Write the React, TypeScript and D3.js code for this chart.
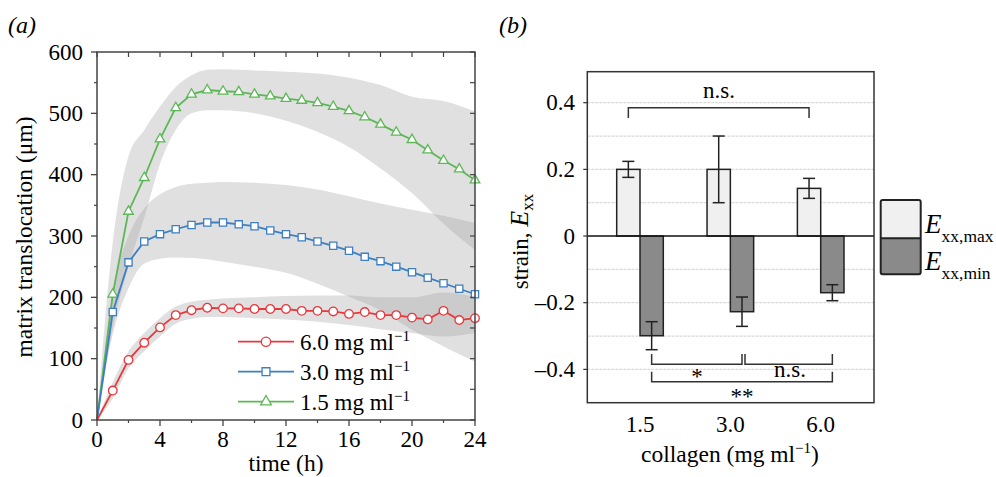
import React from 'react';
import * as d3 from 'd3';

// ---------- Panel (a) data ----------
const hours = [0, 1, 2, 3, 4, 5, 6, 7, 8, 9, 10, 11, 12, 13, 14, 15, 16, 17, 18, 19, 20, 21, 22, 23, 24];
const red6 = [0, 48, 98, 126, 151, 171, 179, 183, 182, 182, 181, 181, 181, 178, 178, 177, 173, 176, 171, 171, 167, 164, 178, 163, 166];
const blue3 = [0, 176, 257, 291, 303, 311, 318, 322, 322, 319, 316, 309, 303, 298, 291, 284, 276, 266, 259, 250, 241, 232, 223, 214, 205];
const green15 = [0, 205, 340, 395, 458, 509, 531, 538, 536, 535, 531, 528, 524, 521, 517, 511, 504, 494, 482, 469, 457, 440, 423, 409, 391];

const bandHours = [0, 1, 2, 3, 4, 5, 6, 7, 8, 10, 12, 14, 16, 18, 20, 22, 24];
const redUpper = [0, 62, 112, 142, 166, 185, 193, 196, 198, 200, 202, 203, 203, 200, 200, 208, 201];
const redLower = [0, 35, 84, 112, 136, 157, 165, 168, 168, 166, 164, 160, 155, 148, 142, 136, 142];
const blueUpper = [0, 210, 300, 345, 368, 380, 385, 387, 388, 387, 383, 376, 365, 353, 343, 333, 321];
const blueLower = [0, 140, 215, 255, 263, 265, 264, 262, 258, 250, 240, 222, 201, 179, 147, 120, 95];
const greenUpper = [0, 290, 430, 473, 511, 543, 562, 571, 572, 570, 568, 565, 558, 546, 527, 520, 503];
const greenLower = [0, 150, 250, 330, 418, 473, 500, 505, 505, 500, 488, 470, 445, 410, 370, 320, 277];

const xTicksA = [0, 4, 8, 12, 16, 20, 24];
const xMinorA = [2, 6, 10, 14, 18, 22];
const yTicksA = [0, 100, 200, 300, 400, 500, 600];
const yMinorA = [50, 150, 250, 350, 450, 550];
const legendLabels = ['6.0 mg ml', '3.0 mg ml', '1.5 mg ml'];

// ---------- Panel (b) data ----------
const collagenCats = ['1.5', '3.0', '6.0'];
const exxMax = [0.2, 0.2, 0.143];
const exxMaxErr = [0.024, 0.1, 0.03];
const exxMin = [-0.299, -0.227, -0.17];
const exxMinErr = [0.042, 0.044, 0.024];
const yTicksB = [-0.4, -0.2, 0, 0.2, 0.4];
const yTickLabelsB = ['\u20130.4', '\u20130.2', '0', '0.2', '0.4'];
const gridB = [-0.4, -0.3, -0.2, -0.1, 0.1, 0.2, 0.3, 0.4];

const FONT = 'Liberation Serif, Times New Roman, Times, serif';
const RED = '#e8383d';
const BLUE = '#3d7fc2';
const GREEN = '#5cb856';

export default function App() {
  // Panel (a) scales
  const xA = d3.scaleLinear().domain([0, 24]).range([97, 475]);
  const yA = d3.scaleLinear().domain([0, 600]).range([420, 52]);

  const band = (up: number[], lo: number[]) =>
    d3.area<number>()
      .x((_, i) => xA(bandHours[i]))
      .y0((_, i) => yA(lo[i]))
      .y1((_, i) => yA(up[i]))
      .curve(d3.curveMonotoneX)(up) || '';

  const line = (vals: number[]) =>
    d3.line<number>().x((_, i) => xA(hours[i])).y((v) => yA(v))(vals) || '';

  const series = [
    { vals: red6, color: RED, sym: d3.symbolCircle, size: 58 },
    { vals: blue3, color: BLUE, sym: d3.symbolSquare, size: 52 },
    { vals: green15, color: GREEN, sym: d3.symbolTriangle, size: 40 },
  ];

  // Panel (b) scales
  const xB = d3.scalePoint<string>().domain(collagenCats).range([640, 820.7]);
  const yB = d3.scaleLinear().domain([-0.5, 0.493]).range([402.7, 71.7]);
  const bw = 23.3;
  const frameB = { x0: 587.3, x1: 874, y0: 71.7, y1: 402.7 };

  const errBar = (cx: number, v: number, e: number, key: string) => (
    <g key={key} stroke="#222" strokeWidth={1.5}>
      <line x1={cx} x2={cx} y1={yB(v - e)} y2={yB(v + e)} />
      <line x1={cx - 6} x2={cx + 6} y1={yB(v - e)} y2={yB(v - e)} />
      <line x1={cx - 6} x2={cx + 6} y1={yB(v + e)} y2={yB(v + e)} />
    </g>
  );

  const maxC = (i: number) => (xB(collagenCats[i]) as number) - bw / 2;
  const minC = (i: number) => (xB(collagenCats[i]) as number) + bw / 2;

  return (
    <svg width={996} height={477} style={{ position: 'absolute', left: 0, top: 0, background: '#fff', fontFamily: FONT }}>
      {/* ---------- Panel (a) ---------- */}
      <text x={8} y={33} fontSize={24} fontStyle="italic">(a)</text>

      <path d={band(greenUpper, greenLower)} fill="#a0a0a0" fillOpacity={0.33} />
      <path d={band(blueUpper, blueLower)} fill="#a0a0a0" fillOpacity={0.33} />
      <path d={band(redUpper, redLower)} fill="#a0a0a0" fillOpacity={0.33} />

      {series.slice().reverse().map((s, si) => (
        <g key={'s' + si}>
          <path d={line(s.vals)} fill="none" stroke={s.color} strokeWidth={1.8} />
          {s.vals.map((v, i) =>
            i === 0 ? null : (
              <path
                key={i}
                d={d3.symbol().type(s.sym).size(s.size)() || ''}
                transform={`translate(${xA(hours[i])},${yA(v)})`}
                fill="#fff"
                stroke={s.color}
                strokeWidth={1.3}
              />
            )
          )}
        </g>
      ))}

      {/* frame & ticks */}
      <rect x={97} y={52} width={378} height={368} fill="none" stroke="#444" strokeWidth={1.5} />
      {yTicksA.map((t) => (
        <g key={'ya' + t}>
          <line x1={91} x2={97} y1={yA(t)} y2={yA(t)} stroke="#444" strokeWidth={1.3} />
          <text x={83} y={yA(t) + 7.5} fontSize={23} textAnchor="end">{t}</text>
        </g>
      ))}
      {yMinorA.map((t) => (
        <line key={'yma' + t} x1={94} x2={97} y1={yA(t)} y2={yA(t)} stroke="#444" strokeWidth={1.2} />
      ))}
      {[...yTicksA, ...yMinorA].map((t) => (
        <line key={'yra' + t} x1={470} x2={475} y1={yA(t)} y2={yA(t)} stroke="#444" strokeWidth={1.2} />
      ))}
      {xTicksA.map((t) => (
        <g key={'xa' + t}>
          <line x1={xA(t)} x2={xA(t)} y1={420} y2={426} stroke="#444" strokeWidth={1.3} />
          <text x={xA(t)} y={447} fontSize={23} textAnchor="middle">{t}</text>
        </g>
      ))}
      {xMinorA.map((t) => (
        <line key={'xma' + t} x1={xA(t)} x2={xA(t)} y1={420} y2={423} stroke="#444" strokeWidth={1.2} />
      ))}
      {[...xTicksA, ...xMinorA].map((t) => (
        <line key={'xta' + t} x1={xA(t)} x2={xA(t)} y1={52} y2={57} stroke="#444" strokeWidth={1.2} />
      ))}

      <text x={286} y={471} fontSize={23.5} textAnchor="middle">time (h)</text>
      <text transform="translate(32,237) rotate(-90)" fontSize={23.5} textAnchor="middle">matrix translocation (μm)</text>

      {/* legend */}
      {series.map((s, i) => {
        const cy = 341.7 + i * 30;
        return (
          <g key={'lg' + i}>
            <line x1={238} x2={294} y1={cy} y2={cy} stroke={s.color} strokeWidth={1.8} />
            <path d={d3.symbol().type(s.sym).size(s.size + 10)() || ''} transform={`translate(266,${cy})`} fill="#fff" stroke={s.color} strokeWidth={1.3} />
            <text x={300} y={cy + 8} fontSize={23}>
              {legendLabels[i]}
              <tspan dy={-9} fontSize={15}>−1</tspan>
            </text>
          </g>
        );
      })}

      {/* ---------- Panel (b) ---------- */}
      <text x={499} y={33} fontSize={24} fontStyle="italic">(b)</text>

      {gridB.map((g) => (
        <line key={'gb' + g} x1={frameB.x0} x2={frameB.x1} y1={yB(g)} y2={yB(g)} stroke="#d9d9d9" strokeWidth={1.2} strokeDasharray="3,1" />
      ))}

      {collagenCats.map((c, i) => (
        <g key={'bar' + c}>
          <rect x={(xB(c) as number) - bw} y={yB(exxMax[i])} width={bw} height={yB(0) - yB(exxMax[i])} fill="#f0f0f0" stroke="#222" strokeWidth={1.5} />
          <rect x={xB(c) as number} y={yB(0)} width={bw} height={yB(exxMin[i]) - yB(0)} fill="#8a8a8a" stroke="#222" strokeWidth={1.5} />
        </g>
      ))}
      <line x1={frameB.x0} x2={frameB.x1} y1={yB(0)} y2={yB(0)} stroke="#111" strokeWidth={1.5} />
      {collagenCats.map((c, i) => errBar(maxC(i), exxMax[i], exxMaxErr[i], 'emax' + c))}
      {collagenCats.map((c, i) => errBar(minC(i), exxMin[i], exxMinErr[i], 'emin' + c))}

      <rect x={frameB.x0} y={frameB.y0} width={frameB.x1 - frameB.x0} height={frameB.y1 - frameB.y0} fill="none" stroke="#333" strokeWidth={1.5} />

      {yTicksB.map((t, i) => (
        <g key={'yb' + t}>
          <line x1={frameB.x0 - 4} x2={frameB.x0} y1={yB(t)} y2={yB(t)} stroke="#333" strokeWidth={1.2} />
          <text x={575} y={yB(t) + 7.5} fontSize={23} textAnchor="end">{yTickLabelsB[i]}</text>
        </g>
      ))}
      {collagenCats.map((c) => (
        <text key={'xb' + c} x={xB(c) as number} y={432} fontSize={23} textAnchor="middle">{c}</text>
      ))}

      {/* significance brackets */}
      <g fill="none" stroke="#333" strokeWidth={1.5}>
        <path d={`M${maxC(0)},${yB(0.354)}V${yB(0.385)}H${maxC(2)}V${yB(0.354)}`} />
        <path d={`M${minC(0)},${yB(-0.354)}V${yB(-0.385)}H${minC(1)}V${yB(-0.354)}`} />
        <path d={`M${minC(1) + 3},${yB(-0.354)}V${yB(-0.385)}H${minC(2)}V${yB(-0.354)}`} />
        <path d={`M${minC(0)},${yB(-0.407)}V${yB(-0.437)}H${minC(2)}V${yB(-0.407)}`} />
      </g>
      <text x={719} y={98} fontSize={23} textAnchor="middle">n.s.</text>
      <text x={697} y={384} fontSize={23} textAnchor="middle">*</text>
      <text x={790} y={377} fontSize={23} textAnchor="middle">n.s.</text>
      <text x={742} y={404} fontSize={23} textAnchor="middle">**</text>

      <text x={730} y={462} fontSize={23.5} textAnchor="middle">
        collagen (mg ml<tspan dy={-9} fontSize={15}>−1</tspan><tspan dy={9}>)</tspan>
      </text>
      <text transform="translate(528,241.5) rotate(-90)" fontSize={23} textAnchor="middle">
        strain, <tspan fontStyle="italic" fontSize={26}>E</tspan><tspan fontSize={17} dy={5}>xx</tspan>
      </text>

      {/* legend b */}
      <rect x={880.7} y={200} width={40} height={38.3} fill="#f0f0f0" />
      <rect x={880.7} y={238.3} width={40} height={36} fill="#8a8a8a" />
      <line x1={880.7} x2={920.7} y1={238.3} y2={238.3} stroke="#222" strokeWidth={2} />
      <rect x={880.7} y={200} width={40} height={74.3} rx={2} fill="none" stroke="#222" strokeWidth={2} />
      <text x={925} y={233} fontSize={27}>
        <tspan fontStyle="italic">E</tspan><tspan fontSize={17.5} dy={8.5}>xx,max</tspan>
      </text>
      <text x={925} y={270} fontSize={27}>
        <tspan fontStyle="italic">E</tspan><tspan fontSize={17.5} dy={8.5}>xx,min</tspan>
      </text>
    </svg>
  );
}
